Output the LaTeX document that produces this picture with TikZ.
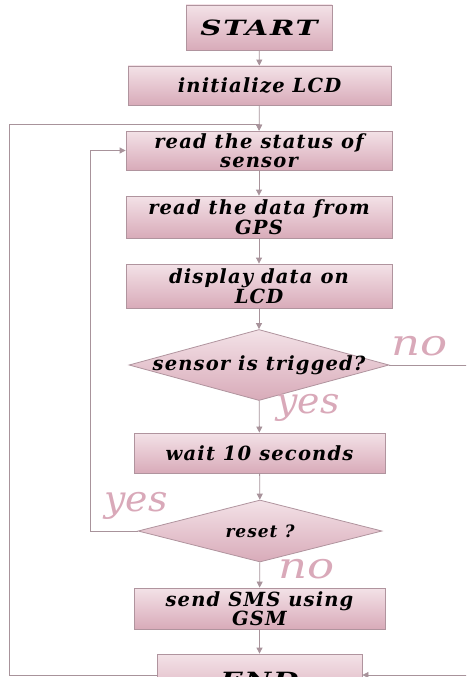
\documentclass[tikz,border=0pt]{standalone}
\usepackage{fontspec}
\usepackage{graphicx}
\setmainfont{DejaVu Serif}
\newfontfamily\boxfont[LetterSpace=6]{DejaVu Serif}
\newfontfamily\lblfont{DejaVu Serif}
\usetikzlibrary{shapes.geometric,arrows.meta}
\definecolor{edgec}{HTML}{B0949E}
\definecolor{linec}{HTML}{A8939B}
\definecolor{ptop}{HTML}{F3E2E7}
\definecolor{pmid}{HTML}{E6C6D0}
\definecolor{pbot}{HTML}{D8ABB9}
\definecolor{lblc}{HTML}{D9A9B9}
\tikzset{
  box/.style={draw=edgec, line width=0.8pt, top color=ptop, bottom color=pbot, middle color=pmid,
    inner sep=0pt, align=center, font=\boxfont\bfseries\itshape\fontsize{19.5}{19.5}\selectfont},
  term/.style={box, font=\boxfont\bfseries\itshape\fontsize{21}{24}\selectfont},
  dec/.style={box, shape=diamond, inner sep=0pt},
  conn/.style={draw=linec, line width=0.8pt},
  arr/.style={conn, -{Triangle[length=6pt,width=6pt]}},
  lbl/.style={font=\lblfont\itshape\fontsize{36}{38}\selectfont, text=lblc, inner sep=0pt},
}
\begin{document}
\begin{tikzpicture}[x=1pt,y=-1pt]
\useasboundingbox (0,0) rectangle (466,677);
\clip (0,0) rectangle (466,677);
\node[term, minimum width=146pt, minimum height=45pt] (start) at (259,27.5) {\scalebox{1.4}[1]{START}};
\node[box, minimum width=263pt, minimum height=39pt] (init) at (259.5,85.5) {initialize LCD};
\node[box, minimum width=266pt, minimum height=39pt] (read) at (259,150.5) {read the status of\\sensor};
\node[box, minimum width=266pt, minimum height=42pt] (gps) at (259,217) {read the data from\\GPS};
\node[box, minimum width=266pt, minimum height=44pt] (disp) at (259,286) {display data on\\LCD};
\node[dec, minimum width=260pt, minimum height=71pt] (sens) at (259,365) {\makebox[0pt]{sensor is trigged?}};
\node[box, minimum width=251pt, minimum height=40pt] (wait) at (259.5,453) {wait 10 seconds};
\node[dec, minimum width=244pt, minimum height=62pt] (reset) at (260,531) {\makebox[0pt]{\fontsize{17}{17}\selectfont reset ?}};
\node[box, minimum width=251pt, minimum height=41pt] (sms) at (259.5,608.5) {send SMS using\\GSM};
\node[term, minimum width=205pt, minimum height=52pt] (end) at (259.5,680) {\scalebox{1.4}[1]{END}};
\coordinate (bot) at (0,675);
\coordinate (far) at (490,0);
\draw[arr] (start) -- (init);
\draw[arr] (init) -- (read);
\draw[arr] (read) -- (gps);
\draw[arr] (gps) -- (disp);
\draw[arr] (disp) -- (sens);
\draw[arr] (sens) -- (wait);
\draw[arr] (wait) -- (reset);
\draw[arr] (reset) -- (sms);
\draw[arr] (sms) -- (end);
\draw[arr] (reset.west) -- (90,531) |- (read.west);
\draw[arr] (end.west |- bot) -- (9,675) -- (9,124) -| (read.north);
\draw[arr] (sens.east) -- (far |- sens.east) -- (far |- bot) -- (end.east |- bot);
\node[lbl] (n1) at (420,346) {\scalebox{1.25}[1]{no}};
\node[lbl] (y1) at (308,408) {\scalebox{1.05}[1]{yes}};
\node[lbl] (y2) at (136,506) {\scalebox{1.05}[1]{yes}};
\node[lbl] (n2) at (307,569) {\scalebox{1.25}[1]{no}};
\end{tikzpicture}
\end{document}
